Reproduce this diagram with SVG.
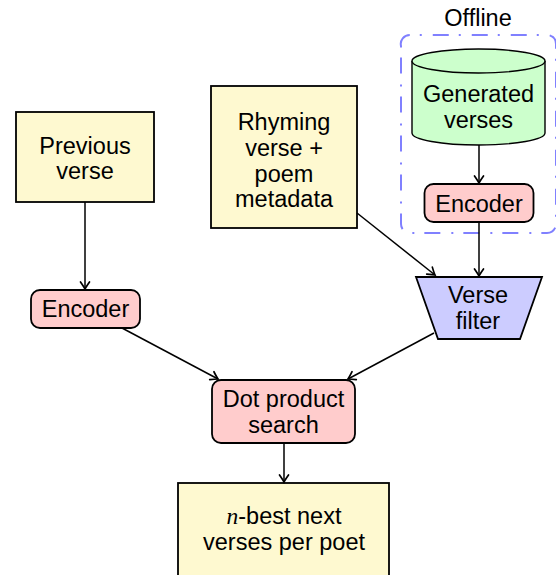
<svg xmlns="http://www.w3.org/2000/svg" width="556" height="575" viewBox="0 0 556 575">
<defs>
<style>
text{font-family:"Liberation Sans",Arial,sans-serif;font-size:23.5px;fill:#000;text-anchor:middle}
.y{fill:#fef9d0;stroke:#000;stroke-width:1.8}
.r{fill:#ffcccc;stroke:#000;stroke-width:1.8}
.b{fill:#ccccff;stroke:#000;stroke-width:1.8}
.g{fill:#ccffcc;stroke:#000;stroke-width:1.4}
.e{fill:none;stroke:#000;stroke-width:1.5;marker-end:url(#arr)}
.off{fill:none;stroke:#8080ff;stroke-width:2;stroke-dasharray:16 10 2 11}
</style>
<marker id="arr" markerUnits="userSpaceOnUse" viewBox="-10 -7 12 14" markerWidth="12" markerHeight="14" refX="0" refY="0" orient="auto">
<path d="M -7 -4.5 Q -2 -1 0 0 Q -2 1 -7 4.5" fill="none" stroke="#000" stroke-width="1.7" stroke-linecap="round"/>
</marker>
</defs>
<g id="offline">
<path class="off" d="M401 46 A9 9 0 0 1 410 35 L547 35 A9 9 0 0 1 556 44 L556 224 A9 9 0 0 1 547 233 L410 233 A9 9 0 0 1 401 224 Z"/>
<text x="478" y="26">Offline</text>
</g>
<g id="generated">
<path class="g" d="M412 61 L412 133 A66.5 12 0 0 0 545 133 L545 61 A66.5 12 0 0 0 412 61 Z"/>
<path class="g" d="M412 61 A66.5 12 0 0 0 545 61" fill="none"/>
<text x="478.5" y="102">Generated</text>
<text x="478.5" y="128">verses</text>
</g>
<g id="encoder2">
<rect class="r" x="424.5" y="184" width="109" height="38" rx="9"/>
<text x="479" y="212">Encoder</text>
</g>
<g id="previous">
<rect class="y" x="16" y="112" width="138" height="90"/>
<text x="85" y="154">Previous</text>
<text x="85" y="179">verse</text>
</g>
<g id="rhyming">
<rect class="y" x="211" y="86" width="146" height="142"/>
<text x="284" y="130">Rhyming</text>
<text x="284" y="156">verse +</text>
<text x="284" y="182">poem</text>
<text x="284" y="207">metadata</text>
</g>
<g id="encoder1">
<rect class="r" x="31" y="290" width="109" height="38" rx="9"/>
<text x="85.5" y="317">Encoder</text>
</g>
<g id="filter">
<polygon class="b" points="416,277 542,277 520,339 438,339"/>
<text x="478" y="303">Verse</text>
<text x="478" y="329">filter</text>
</g>
<g id="dot">
<rect class="r" x="212" y="380" width="143" height="63" rx="9"/>
<text x="283.5" y="407">Dot product</text>
<text x="283.5" y="433">search</text>
</g>
<g id="nbest">
<rect class="y" x="178" y="483" width="211" height="100"/>
<text x="284" y="524"><tspan style="font-family:'Liberation Serif',serif;font-style:italic">n</tspan>-best next</text>
<text x="284" y="550">verses per poet</text>
</g>
<g id="connectors">
<path class="e" d="M85 202 L85 289"/>
<path class="e" d="M479 145 L479 183"/>
<path class="e" d="M479 222 L479 276"/>
<path class="e" d="M357 213 L435 275"/>
<path class="e" d="M122 328 L218 379"/>
<path class="e" d="M434 333 L348 379"/>
<path class="e" d="M284 443 L284 482"/>
</g>
</svg>
